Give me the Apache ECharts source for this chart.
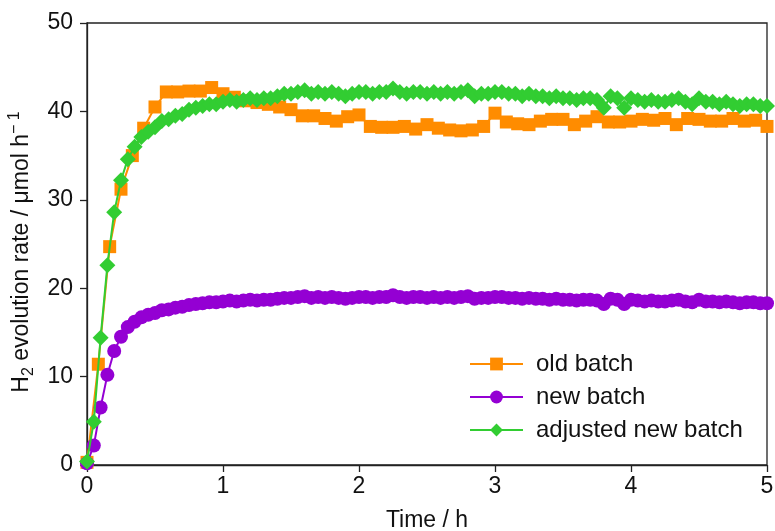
<!DOCTYPE html>
<html>
<head>
<meta charset="utf-8">
<script src="https://cdn.jsdelivr.net/npm/echarts@6/dist/echarts.min.js"></script>
<style>
  html, body { margin: 0; padding: 0; background: #fff; }
  #chart { width: 775px; height: 531px; }
</style>
</head>
<body>
<div id="chart"></div>
<script>
// sampling intervals (h) of the two measurements
const oldStep = 1 / 12
const newStep = 0.05

// old batch, H2 rate (µmol/h), one point every 5 min
const oldBatch = [
  0.3, 11.4, 24.7, 31.2, 35.0, 38.1, 40.5, 42.2, 42.2, 42.3,
  42.3, 42.7, 42.0, 41.6, 41.2, 41.0, 40.8, 40.5, 40.2, 39.5,
  39.5, 39.2, 38.9, 39.4, 39.6, 38.3, 38.2, 38.2, 38.3, 38.0,
  38.5, 38.1, 37.9, 37.8, 37.9, 38.3, 39.8, 38.8, 38.6, 38.5,
  38.9, 39.1, 39.1, 38.5, 38.9, 39.4, 38.8, 38.8, 38.9, 39.1,
  39.0, 39.2, 38.5, 39.2, 39.1, 38.9, 38.9, 39.2, 38.9, 39.0,
  38.3
]

// new batch, one point every 3 min
const newBatch = [
  0.2, 2.2, 6.5, 10.2, 12.9, 14.5, 15.6, 16.2, 16.7, 17.0,
  17.2, 17.5, 17.6, 17.8, 17.9, 18.1, 18.2, 18.3, 18.4, 18.4,
  18.5, 18.6, 18.5, 18.6, 18.7, 18.6, 18.7, 18.7, 18.8, 18.9,
  18.9, 19.0, 19.1, 18.9, 19.0, 18.9, 19.0, 18.9, 18.8, 18.9,
  19.0, 19.0, 18.9, 19.0, 19.0, 19.2, 19.0, 18.9, 19.0, 19.0,
  18.9, 19.0, 18.9, 19.0, 18.9, 19.0, 19.1, 18.8, 18.9, 18.9,
  19.0, 19.0, 18.9, 18.9, 18.8, 18.9, 18.8, 18.8, 18.7, 18.8,
  18.7, 18.7, 18.6, 18.7, 18.7, 18.6, 18.2, 18.8, 18.7, 18.2,
  18.7, 18.6, 18.5, 18.6, 18.5, 18.5, 18.6, 18.7, 18.5, 18.4,
  18.7, 18.5, 18.5, 18.4, 18.5, 18.4, 18.3, 18.4, 18.4, 18.3,
  18.3
]

// adjusted new batch, same sampling as new batch
const adjustedBatch = [
  0.4, 4.9, 14.4, 22.6, 28.6, 32.2, 34.6, 36.0, 37.1, 37.7,
  38.2, 38.9, 39.1, 39.5, 39.7, 40.2, 40.4, 40.6, 40.8, 40.8,
  41.1, 41.3, 41.1, 41.3, 41.5, 41.3, 41.5, 41.5, 41.7, 42.0,
  42.0, 42.2, 42.4, 42.0, 42.2, 42.0, 42.2, 42.0, 41.7, 42.0,
  42.2, 42.2, 42.0, 42.2, 42.2, 42.6, 42.2, 42.0, 42.2, 42.2,
  42.0, 42.2, 42.0, 42.2, 42.0, 42.2, 42.4, 41.7, 42.0, 42.0,
  42.2, 42.2, 42.0, 42.0, 41.7, 42.0, 41.7, 41.7, 41.5, 41.7,
  41.5, 41.5, 41.3, 41.5, 41.5, 41.3, 40.4, 41.7, 41.5, 40.4,
  41.5, 41.3, 41.1, 41.3, 41.1, 41.1, 41.3, 41.5, 41.1, 40.8,
  41.5, 41.1, 41.1, 40.8, 41.1, 40.8, 40.6, 40.8, 40.8, 40.6,
  40.6
]

const seriesNames = ['old batch', 'new batch', 'adjusted new batch']
const colors = ['#ff8c00', '#9400d3', '#32cd32']

const font = 'Liberation Sans, Arial, sans-serif'
const fs = 23

function withTime(values, step) {
  return values.map((v, i) => [i * step, v])
}

const chart = echarts.init(document.getElementById('chart'))

const axisLine = { show: true, lineStyle: { color: '#222', width: 1.3 } }
const axisTick = { show: true, length: 7, lineStyle: { color: '#222', width: 1.3 } }

chart.setOption({
  animation: false,
  grid: {
    left: 87, right: 8, top: 23, bottom: 66,
    outerBoundsMode: 'none',
    show: true, borderColor: '#222', borderWidth: 1.3,
  },
  legend: {
    orient: 'vertical',
    left: 464,
    top: 347,
    itemWidth: 53,
    itemHeight: 16,
    itemGap: 9,
    textStyle: { fontFamily: font, fontSize: 24, color: '#111', padding: [0, 0, 0, 8] },
    data: seriesNames,
  },
  xAxis: {
    type: 'value',
    min: 0, max: 5, interval: 1,
    name: 'Time / h',
    nameLocation: 'middle',
    nameGap: 44,
    nameTextStyle: { fontFamily: font, fontSize: fs, color: '#111' },
    axisLine,
    axisTick,
    axisLabel: { fontFamily: font, fontSize: fs, color: '#111', margin: 10 },
    splitLine: { show: false },
  },
  yAxis: {
    type: 'value',
    min: 0, max: 50, interval: 10,
    name: '{t|H}{sub|2}{t| evolution rate / μmol h}{sup|− 1}',
    nameLocation: 'middle',
    nameGap: 50,
    nameTextStyle: {
      fontFamily: font, fontSize: fs, color: '#111',
      padding: [0, 16, 0, 0],
      rich: {
        t: { fontFamily: font, fontSize: fs, color: '#111', lineHeight: 30, verticalAlign: 'middle' },
        sub: { fontFamily: font, fontSize: 16, color: '#111', lineHeight: 30, verticalAlign: 'bottom' },
        sup: { fontFamily: font, fontSize: 16, color: '#111', lineHeight: 30, verticalAlign: 'top' },
      },
    },
    axisLine,
    axisTick,
    axisLabel: { fontFamily: font, fontSize: fs, color: '#111', margin: 14 },
    splitLine: { show: false },
  },
  series: [
    {
      name: seriesNames[0],
      type: 'line',
      data: withTime(oldBatch, oldStep),
      symbol: 'rect',
      symbolSize: 13,
      color: colors[0],
      lineStyle: { width: 2 },
      z: 2,
    },
    {
      name: seriesNames[1],
      type: 'line',
      data: withTime(newBatch, newStep),
      symbol: 'circle',
      symbolSize: 14,
      color: colors[1],
      lineStyle: { width: 2 },
      z: 3,
    },
    {
      name: seriesNames[2],
      type: 'line',
      data: withTime(adjustedBatch, newStep),
      symbol: 'diamond',
      symbolSize: 16,
      color: colors[2],
      lineStyle: { width: 2 },
      z: 4,
    },
  ],
})
</script>
</body>
</html>
